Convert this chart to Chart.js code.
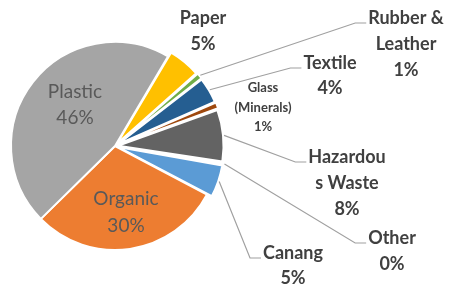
<!DOCTYPE html>
<html>
<head>
<meta charset="utf-8">
<script src="https://cdn.jsdelivr.net/npm/chart.js@4.4.1/dist/chart.umd.min.js"></script>
<style>
  html, body { margin: 0; padding: 0; background: #fff; }
</style>
</head>
<body>
<canvas id="myChart" width="452" height="287"></canvas>
<script>
// Datos del gráfico (orden horario empezando por Paper)
const categorias = ["Paper", "Rubber & Leather", "Textile", "Glass (Minerals)", "Hazardous Waste", "Other", "Canang", "Organic", "Plastic"];
const valores = [5, 1, 4, 1, 8, 0.3, 5, 30, 46];
const lineasEtiqueta = [
  ["Paper"],
  ["Rubber &", "Leather"],
  ["Textile"],
  ["Glass", "(Minerals)"],
  ["Hazardou", "s Waste"],
  ["Other"],
  ["Canang"],
  ["Organic"],
  ["Plastic"],
];
const colores = ["#FFC000", "#70AD47", "#255E91", "#9E480E", "#636363", "#997300", "#5B9BD5", "#ED7D31", "#A5A5A5"];

// Posición y estilo de cada etiqueta
const etiquetas = [
  { x: 203, y: 18, lh: 26, size: 18, bold: true, color: "#404040", guia: false },
  { x: 406, y: 18, lh: 26, size: 18, bold: true, color: "#404040", guia: true },
  { x: 330, y: 63, lh: 25, size: 18, bold: true, color: "#404040", guia: true },
  { x: 263, y: 88, lh: 19.5, size: 13, bold: true, color: "#404040", guia: false },
  { x: 347, y: 157, lh: 26, size: 18, bold: true, color: "#404040", guia: true },
  { x: 392, y: 238, lh: 26, size: 18, bold: true, color: "#404040", guia: true },
  { x: 293, y: 253, lh: 25, size: 18, bold: true, color: "#404040", guia: true },
  { x: 126, y: 199, lh: 27, size: 19, bold: false, color: "#595959", guia: false },
  { x: 75, y: 92, lh: 26, size: 19, bold: false, color: "#595959", guia: false },
];

// Plugin para dibujar etiquetas y líneas guía
const etiquetasPlugin = {
  id: "etiquetas",
  afterDatasetsDraw(chart) {
    const ctx = chart.ctx;
    const arcs = chart.getDatasetMeta(0).data;
    const total = valores.reduce((a, b) => a + b, 0);
    arcs.forEach((arc, i) => {
      const et = etiquetas[i];
      const pct = Math.round((valores[i] / total) * 100) + "%";
      const lineas = [...lineasEtiqueta[i], pct];
      ctx.save();
      ctx.font = (et.bold ? "bold " : "") + et.size + "px Lato, sans-serif";
      ctx.fillStyle = et.color;
      ctx.textAlign = "center";
      ctx.textBaseline = "middle";
      lineas.forEach((t, k) => ctx.fillText(t, et.x, et.y + k * et.lh));
      if (et.guia) {
        const ancho = Math.max(...lineas.map((t) => ctx.measureText(t).width));
        const finX = et.x - ancho / 2 - 2;
        const finY = et.y + 5;
        const mid = (arc.startAngle + arc.endAngle) / 2;
        const c = arc.endAngle - arc.startAngle;
        const desp = ((arc.options.offset || 0) / 4) * (2 - Math.sin(Math.min(Math.PI, c)));
        const r = arc.outerRadius + desp + 1;
        ctx.strokeStyle = "#A0A0A0";
        ctx.lineWidth = 1.2;
        ctx.beginPath();
        ctx.moveTo(arc.x + Math.cos(mid) * r, arc.y + Math.sin(mid) * r);
        ctx.lineTo(finX - 11, finY);
        ctx.lineTo(finX, finY);
        ctx.stroke();
      }
      ctx.restore();
    });
  },
};

const ctx = document.getElementById("myChart").getContext("2d");
new Chart(ctx, {
  type: "pie",
  data: {
    labels: categorias,
    datasets: [
      {
        data: valores,
        backgroundColor: colores,
        borderColor: "#ffffff",
        borderWidth: 2,
        offset: [12, 12, 12, 12, 12, 12, 12, 0, 0],
        clip: false,
      },
    ],
  },
  options: {
    responsive: false,
    animation: false,
    rotation: 30.6,
    radius: 104,
    layout: { padding: { left: 0, right: 222, top: 5, bottom: 0 } },
    plugins: {
      legend: { display: false },
      tooltip: { enabled: false },
    },
  },
  plugins: [etiquetasPlugin],
});
</script>
</body>
</html>
